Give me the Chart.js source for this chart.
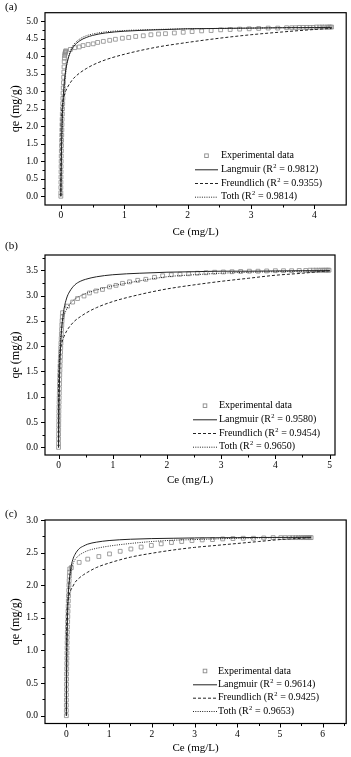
<!DOCTYPE html>
<html>
<head>
<meta charset="utf-8">
<script src="https://cdn.jsdelivr.net/npm/chart.js@4.4.1/dist/chart.umd.min.js"></script>
<style>
  body { margin: 0; background: #fff; width: 351px; height: 757px; position: relative; overflow: hidden;
         font-family: "Liberation Serif", "Times New Roman", serif; }
  .panel { position: absolute; left: 0; width: 351px; }
  .tag { position: absolute; left: 5px; font-size: 11px; color: #000; line-height: 1; }
</style>
</head>
<body>
<div class="panel" style="top:0;height:242px"><canvas id="chartA"></canvas></div>
<div class="panel" style="top:242px;height:250px"><canvas id="chartB"></canvas></div>
<div class="panel" style="top:492px;height:265px"><canvas id="chartC"></canvas></div>
<div class="tag" style="top:1px">(a)</div>
<div class="tag" style="top:240px">(b)</div>
<div class="tag" style="top:508px">(c)</div>
<script>
// ---- panel (a) ----
const aFitX = [0, 0.002, 0.005, 0.01, 0.02, 0.03, 0.05, 0.07, 0.1, 0.15, 0.2, 0.3, 0.4, 0.5, 0.7, 1, 1.5, 2, 2.5, 3, 3.5, 4, 4.27];
const aLangmuir = [0, 0.34, 0.77, 1.33, 2.09, 2.58, 3.17, 3.52, 3.83, 4.12, 4.28, 4.45, 4.54, 4.6, 4.67, 4.72, 4.76, 4.79, 4.8, 4.81, 4.82, 4.825, 4.83];
const aFreundlich = [0, 1.97, 2.19, 2.37, 2.57, 2.7, 2.86, 2.98, 3.1, 3.25, 3.37, 3.53, 3.65, 3.75, 3.9, 4.06, 4.26, 4.4, 4.52, 4.62, 4.7, 4.77, 4.8];
const aToth = [0, 0.25, 0.6, 1.1, 1.85, 2.4, 3.05, 3.45, 3.82, 4.16, 4.33, 4.5, 4.59, 4.64, 4.7, 4.74, 4.77, 4.79, 4.8, 4.81, 4.82, 4.825, 4.83];
const aExpX = [0, 0, 0, 0.001, 0.002, 0.003, 0.004, 0.005, 0.006, 0.008, 0.01, 0.012, 0.014, 0.016, 0.018, 0.02, 0.023, 0.026, 0.029, 0.032, 0.035, 0.038, 0.041, 0.044, 0.047, 0.05, 0.053, 0.056, 0.06, 0.064, 0.068, 0.072, 0.076, 0.078,
  0.15, 0.22, 0.29, 0.35, 0.43, 0.51, 0.58, 0.67, 0.77, 0.86, 0.97, 1.07, 1.18, 1.3, 1.42, 1.54, 1.65, 1.79, 1.93, 2.07, 2.22, 2.37, 2.52, 2.67, 2.82, 2.97, 3.12, 3.27, 3.42, 3.56, 3.64, 3.7, 3.76, 3.82, 3.88, 3.93, 3.98, 4.03, 4.08, 4.12, 4.16, 4.2, 4.23, 4.25, 4.27];
const aExpY = [0, 0.1, 0.25, 0.4, 0.55, 0.7, 0.85, 1.0, 1.15, 1.3, 1.45, 1.6, 1.75, 1.9, 2.05, 2.2, 2.35, 2.5, 2.65, 2.8, 2.95, 3.1, 3.25, 3.4, 3.55, 3.7, 3.85, 3.95, 4.02, 4.07, 4.1, 4.12, 4.14, 4.16,
  4.2, 4.25, 4.27, 4.31, 4.34, 4.36, 4.4, 4.43, 4.46, 4.49, 4.52, 4.54, 4.57, 4.59, 4.62, 4.64, 4.65, 4.67, 4.69, 4.71, 4.73, 4.74, 4.76, 4.77, 4.78, 4.79, 4.8, 4.81, 4.81, 4.82, 4.82, 4.82, 4.83, 4.83, 4.83, 4.83, 4.83, 4.84, 4.84, 4.84, 4.84, 4.84, 4.84, 4.84, 4.84];
const aR2 = ['0.9812', '0.9355', '0.9814'];
const aXTicks = [0, 1, 2, 3, 4];
const aYTicks = [0, 0.5, 1, 1.5, 2, 2.5, 3, 3.5, 4, 4.5, 5];

// ---- panel (b) ----
const bFitX = [0, 0.002, 0.005, 0.01, 0.02, 0.03, 0.05, 0.07, 0.1, 0.15, 0.2, 0.3, 0.4, 0.5, 0.7, 1, 1.5, 2, 2.5, 3, 3.5, 4, 4.5, 5];
const bLangmuir = [0, 0.23, 0.52, 0.91, 1.45, 1.8, 2.23, 2.49, 2.73, 2.95, 3.07, 3.21, 3.28, 3.32, 3.37, 3.41, 3.44, 3.46, 3.47, 3.48, 3.48, 3.485, 3.49, 3.49];
const bFreundlich = [0, 1.38, 1.53, 1.67, 1.81, 1.9, 2.02, 2.1, 2.19, 2.3, 2.38, 2.5, 2.58, 2.65, 2.76, 2.88, 3.02, 3.13, 3.21, 3.28, 3.34, 3.4, 3.44, 3.49];
const bToth = [0, 0.5, 0.95, 1.35, 1.8, 2.05, 2.3, 2.47, 2.6, 2.73, 2.82, 2.93, 2.99, 3.04, 3.11, 3.19, 3.29, 3.37, 3.41, 3.44, 3.46, 3.47, 3.48, 3.49];
const bExpX = [0, 0, 0, 0.001, 0.002, 0.003, 0.004, 0.005, 0.006, 0.008, 0.01, 0.012, 0.014, 0.016, 0.018, 0.02, 0.022, 0.025, 0.028, 0.031, 0.034, 0.037, 0.04, 0.044, 0.048, 0.052, 0.056, 0.06, 0.065, 0.07, 0.074,
  0.166, 0.26, 0.35, 0.47, 0.57, 0.69, 0.81, 0.94, 1.06, 1.18, 1.31, 1.46, 1.61, 1.77, 1.92, 2.08, 2.24, 2.4, 2.56, 2.72, 2.88, 3.04, 3.2, 3.36, 3.52, 3.68, 3.84, 4.0, 4.15, 4.3, 4.44, 4.56, 4.64, 4.7, 4.75, 4.8, 4.84, 4.88, 4.91, 4.94, 4.97, 4.99];
const bExpY = [0, 0.08, 0.17, 0.26, 0.35, 0.44, 0.53, 0.62, 0.71, 0.8, 0.89, 0.98, 1.07, 1.16, 1.25, 1.34, 1.43, 1.52, 1.61, 1.7, 1.79, 1.88, 1.97, 2.06, 2.15, 2.24, 2.33, 2.42, 2.5, 2.58, 2.66,
  2.79, 2.87, 2.94, 2.99, 3.05, 3.09, 3.12, 3.17, 3.2, 3.24, 3.27, 3.3, 3.32, 3.36, 3.39, 3.41, 3.42, 3.43, 3.44, 3.45, 3.46, 3.465, 3.47, 3.475, 3.48, 3.48, 3.485, 3.49, 3.49, 3.49, 3.495, 3.495, 3.5, 3.5, 3.5, 3.5, 3.5, 3.5, 3.5, 3.5, 3.5, 3.5];
const bR2 = ['0.9580', '0.9454', '0.9650'];
const bXTicks = [0, 1, 2, 3, 4, 5];
const bYTicks = [0, 0.5, 1, 1.5, 2, 2.5, 3, 3.5];

// ---- panel (c) ----
const cFitX = [0, 0.002, 0.005, 0.01, 0.02, 0.03, 0.05, 0.07, 0.1, 0.15, 0.2, 0.3, 0.4, 0.5, 0.7, 1, 1.5, 2, 2.5, 3, 3.5, 4, 4.5, 5, 5.5, 5.73];
const cLangmuir = [0, 0.23, 0.5, 0.85, 1.3, 1.58, 1.9, 2.08, 2.25, 2.39, 2.47, 2.56, 2.6, 2.63, 2.66, 2.685, 2.705, 2.715, 2.72, 2.725, 2.728, 2.73, 2.732, 2.733, 2.734, 2.734];
const cFreundlich = [0, 1.36, 1.47, 1.57, 1.66, 1.72, 1.8, 1.86, 1.92, 1.98, 2.04, 2.11, 2.16, 2.2, 2.27, 2.34, 2.43, 2.49, 2.54, 2.58, 2.61, 2.64, 2.67, 2.7, 2.72, 2.73];
const cToth = [0, 0.35, 0.7, 1.05, 1.45, 1.68, 1.93, 2.07, 2.2, 2.32, 2.39, 2.46, 2.5, 2.53, 2.565, 2.6, 2.64, 2.67, 2.69, 2.7, 2.71, 2.72, 2.725, 2.73, 2.733, 2.735];
const cExpX = [0, 0, 0, 0.001, 0.002, 0.003, 0.004, 0.005, 0.006, 0.008, 0.01, 0.012, 0.014, 0.016, 0.018, 0.02, 0.023, 0.026, 0.03, 0.034, 0.038, 0.042, 0.046, 0.05, 0.055, 0.06, 0.065, 0.07, 0.075, 0.08,
  0.117, 0.3, 0.5, 0.76, 1.01, 1.26, 1.51, 1.75, 1.99, 2.22, 2.46, 2.7, 2.94, 3.18, 3.42, 3.66, 3.9, 4.14, 4.38, 4.62, 4.84, 5.02, 5.12, 5.22, 5.3, 5.37, 5.43, 5.49, 5.54, 5.59, 5.63, 5.67, 5.7, 5.73];
const cExpY = [0, 0.08, 0.16, 0.24, 0.32, 0.4, 0.48, 0.56, 0.64, 0.72, 0.8, 0.88, 0.96, 1.04, 1.12, 1.2, 1.28, 1.36, 1.44, 1.52, 1.6, 1.68, 1.76, 1.84, 1.92, 2.0, 2.07, 2.14, 2.2, 2.25,
  2.27, 2.35, 2.4, 2.44, 2.48, 2.52, 2.555, 2.585, 2.61, 2.635, 2.655, 2.67, 2.685, 2.695, 2.7, 2.71, 2.715, 2.72, 2.72, 2.725, 2.73, 2.73, 2.73, 2.73, 2.73, 2.73, 2.73, 2.73, 2.73, 2.73, 2.73, 2.73, 2.73, 2.73];
const cR2 = ['0.9614', '0.9425', '0.9653'];
const cXTicks = [0, 1, 2, 3, 4, 5, 6];
const cYTicks = [0, 0.5, 1, 1.5, 2, 2.5, 3];

const FONT = '"Liberation Serif", "Times New Roman", serif';
const pts = (xs, ys) => xs.map((x, i) => ({ x: x, y: ys[i] }));

// frame box + Origin-style outward ticks (major and minor) on left/bottom
const frameTicks = {
    id: 'frameTicks',
    afterDraw(chart, args, opts) {
        const { ctx, chartArea: ca, scales } = chart;
        ctx.save();
        ctx.strokeStyle = '#000';
        ctx.lineWidth = 1.2;
        ctx.strokeRect(ca.left, ca.top, ca.right - ca.left, ca.bottom - ca.top);
        ctx.lineWidth = 1;
        const minors = (vals, sc) => {
            const step = vals[1] - vals[0];
            const out = [];
            [vals[0] - step, ...vals].forEach(v => {
                const m = v + step / 2;
                if (m > sc.min && m < sc.max) out.push(m);
            });
            return out;
        };
        const drawX = (v, len) => {
            const px = Math.round(scales.x.getPixelForValue(v)) + 0.5;
            ctx.beginPath(); ctx.moveTo(px, ca.bottom); ctx.lineTo(px, ca.bottom + len); ctx.stroke();
        };
        const drawY = (v, len) => {
            const py = Math.round(scales.y.getPixelForValue(v)) + 0.5;
            ctx.beginPath(); ctx.moveTo(ca.left, py); ctx.lineTo(ca.left - len, py); ctx.stroke();
        };
        opts.xTicks.forEach(v => drawX(v, 4));
        minors(opts.xTicks, scales.x).forEach(v => drawX(v, 2.5));
        opts.yTicks.forEach(v => drawY(v, 4));
        minors(opts.yTicks, scales.y).forEach(v => drawY(v, 2.5));
        ctx.restore();
    }
};

// legend drawn inside the plot, lower right, with superscript R2
const isoLegend = {
    id: 'isoLegend',
    afterDraw(chart, args, opts) {
        const ctx = chart.ctx;
        ctx.save();
        ctx.fillStyle = '#000';
        ctx.textBaseline = 'middle';
        const names = ['Langmuir', 'Freundlich', 'Toth'];
        const dashes = [[], [3, 2], [1, 1.3]];
        opts.rows.forEach((ry, i) => {
            const midX = (opts.symX0 + opts.symX1) / 2;
            if (i === 0) {
                ctx.strokeStyle = '#8a8a8a';
                ctx.lineWidth = 0.9;
                ctx.strokeRect(midX - 1.8, ry - 1.8, 3.6, 3.6);
                ctx.font = '10px ' + FONT;
                ctx.fillText('Experimental data', opts.textX, ry);
                return;
            }
            ctx.strokeStyle = '#222';
            ctx.lineWidth = 1;
            ctx.setLineDash(dashes[i - 1]);
            ctx.beginPath(); ctx.moveTo(opts.symX0, ry + 0.5); ctx.lineTo(opts.symX1, ry + 0.5); ctx.stroke();
            ctx.setLineDash([]);
            let x = opts.textX;
            ctx.font = '10px ' + FONT;
            const head = names[i - 1] + ' (R';
            ctx.fillText(head, x, ry);
            x += ctx.measureText(head).width;
            ctx.font = '6.5px ' + FONT;
            ctx.fillText('2', x + 0.3, ry - 3);
            x += ctx.measureText('2').width + 0.6;
            ctx.font = '10px ' + FONT;
            ctx.fillText(' = ' + opts.r2[i - 1] + ')', x, ry);
        });
        ctx.restore();
    }
};

function makePanel(id, p) {
    const lineSet = (label, ys, dash) => ({
        label: label, data: pts(p.fitX, ys), borderColor: '#222', borderWidth: 1, borderDash: dash,
        pointRadius: 0, fill: false, cubicInterpolationMode: 'monotone'
    });
    new Chart(document.getElementById(id), {
        type: 'line',
        data: {
            datasets: [
                lineSet('Langmuir', p.lang, []),
                lineSet('Freundlich', p.freu, [3, 2]),
                lineSet('Toth', p.toth, [1, 1.3]),
                {
                    label: 'Experimental data', data: pts(p.expX, p.expY), showLine: false,
                    pointStyle: 'rect', pointRadius: 2.7, pointBorderWidth: 0.8,
                    pointBorderColor: '#8a8a8a', pointBackgroundColor: 'rgba(255,255,255,0)'
                }
            ]
        },
        options: {
            responsive: true,
            maintainAspectRatio: false,
            animation: false,
            layout: { padding: { top: p.top, right: p.right, left: 0, bottom: 0 } },
            plugins: {
                legend: { display: false },
                tooltip: { enabled: false },
                frameTicks: { xTicks: p.xTicks, yTicks: p.yTicks },
                isoLegend: { rows: p.rows, symX0: p.symX0, symX1: p.symX1, textX: p.textX, r2: p.r2 }
            },
            scales: {
                x: {
                    type: 'linear', min: p.xMin, max: p.xMax,
                    afterFit: s => { s.height = p.xHeight; },
                    afterBuildTicks: s => { s.ticks = p.xTicks.map(v => ({ value: v })); },
                    ticks: { padding: 5, color: '#000', font: { family: FONT, size: 9.5 }, callback: v => String(v) },
                    grid: { display: false, drawTicks: false },
                    border: { display: false },
                    title: { display: true, text: 'Ce (mg/L)', color: '#000', font: { family: FONT, size: 11 },
                             padding: { top: 0, bottom: p.titlePad } }
                },
                y: {
                    type: 'linear', min: p.yMin, max: p.yMax,
                    afterFit: s => { s.width = 45; },
                    afterBuildTicks: s => { s.ticks = p.yTicks.map(v => ({ value: v })); },
                    ticks: { padding: 7, color: '#000', font: { family: FONT, size: 9.5 }, callback: v => v.toFixed(1) },
                    grid: { display: false, drawTicks: false },
                    border: { display: false },
                    title: { display: true, text: 'qe (mg/g)', color: '#000', font: { family: FONT, size: 12 },
                             padding: { top: 8.8, bottom: 0 } }
                }
            }
        },
        plugins: [frameTicks, isoLegend]
    });
}

makePanel('chartA', {
    fitX: aFitX, lang: aLangmuir, freu: aFreundlich, toth: aToth, expX: aExpX, expY: aExpY, r2: aR2,
    xTicks: aXTicks, yTicks: aYTicks, xMin: -0.25, xMax: 4.5, yMin: -0.25, yMax: 5.25,
    top: 3, right: 2, xHeight: 37, titlePad: 3.7,
    rows: [155.7, 169.3, 183, 196.7], symX0: 195, symX1: 218, textX: 221
});
makePanel('chartB', {
    fitX: bFitX, lang: bLangmuir, freu: bFreundlich, toth: bToth, expX: bExpX, expY: bExpY, r2: bR2,
    xTicks: bXTicks, yTicks: bYTicks, xMin: -0.25, xMax: 5.1, yMin: -0.15, yMax: 3.8,
    top: 13, right: 16, xHeight: 37, titlePad: 5.4,
    rows: [163.7, 177.3, 191, 204.7], symX0: 193, symX1: 217, textX: 219
});
makePanel('chartC', {
    fitX: cFitX, lang: cLangmuir, freu: cFreundlich, toth: cToth, expX: cExpX, expY: cExpY, r2: cR2,
    xTicks: cXTicks, yTicks: cYTicks, xMin: -0.5, xMax: 6.55, yMin: -0.12, yMax: 3.0,
    top: 28, right: 4, xHeight: 33.5, titlePad: 2.4,
    rows: [179, 192.3, 205.7, 219], symX0: 193, symX1: 217, textX: 218
});
</script>
</body>
</html>
